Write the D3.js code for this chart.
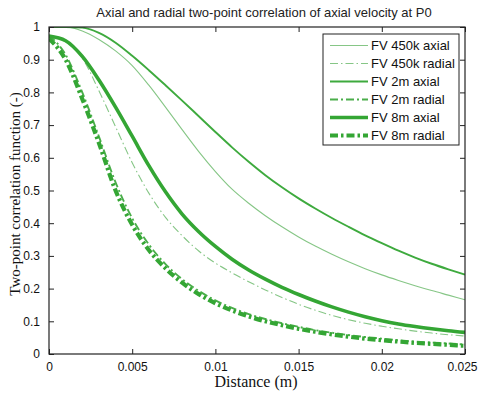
<!DOCTYPE html>
<html>
<head>
<meta charset="utf-8">
<script src="https://cdn.jsdelivr.net/npm/d3@7"></script>
<style>
  html, body { margin: 0; padding: 0; background: #fff; }
  svg { display: block; }
</style>
</head>
<body>
<svg id="chart" width="478" height="393"></svg>
<script>
// Separation distance (m)
const distance = [0, 0.001, 0.002, 0.003, 0.004, 0.005, 0.006, 0.007, 0.008, 0.009,
  0.010, 0.011, 0.012, 0.013, 0.014, 0.015, 0.016, 0.017, 0.018, 0.019,
  0.020, 0.021, 0.022, 0.023, 0.024, 0.025];

// Two-point correlation per mesh and direction
const fv450kAxial = [1.0, 1.0, 0.988, 0.962, 0.927, 0.882, 0.822, 0.755, 0.686, 0.619,
  0.558, 0.504, 0.461, 0.423, 0.389, 0.358, 0.33, 0.305, 0.282, 0.261,
  0.242, 0.225, 0.209, 0.194, 0.18, 0.166];
const fv450kRadial = [0.97, 0.955, 0.905, 0.805, 0.695, 0.585, 0.492, 0.418, 0.362, 0.315,
  0.278, 0.248, 0.221, 0.196, 0.173, 0.152, 0.134, 0.118, 0.105, 0.094,
  0.085, 0.077, 0.07, 0.064, 0.059, 0.055];
const fv2mAxial = [1.0, 1.0, 0.998, 0.982, 0.952, 0.912, 0.868, 0.822, 0.775, 0.727,
  0.679, 0.632, 0.588, 0.547, 0.51, 0.476, 0.445, 0.416, 0.389, 0.363,
  0.339, 0.316, 0.295, 0.276, 0.259, 0.243];
const fv2mRadial = [0.975, 0.915, 0.8, 0.665, 0.525, 0.415, 0.335, 0.275, 0.229, 0.193,
  0.164, 0.141, 0.122, 0.107, 0.094, 0.083, 0.073, 0.065, 0.058, 0.052,
  0.047, 0.042, 0.038, 0.035, 0.032, 0.029];
const fv8mAxial = [0.972, 0.958, 0.91, 0.838, 0.755, 0.666, 0.576, 0.496, 0.428, 0.374,
  0.329, 0.29, 0.257, 0.229, 0.204, 0.182, 0.162, 0.144, 0.128, 0.114,
  0.102, 0.092, 0.084, 0.077, 0.071, 0.066];
const fv8mRadial = [0.965, 0.9, 0.78, 0.645, 0.5, 0.395, 0.318, 0.262, 0.218, 0.183,
  0.155, 0.133, 0.115, 0.1, 0.088, 0.077, 0.068, 0.06, 0.053, 0.047,
  0.042, 0.038, 0.034, 0.031, 0.028, 0.025];

const seriesNames = ["FV 450k axial", "FV 450k radial", "FV 2m axial", "FV 2m radial", "FV 8m axial", "FV 8m radial"];
const seriesValues = [fv450kAxial, fv450kRadial, fv2mAxial, fv2mRadial, fv8mAxial, fv8mRadial];

const xTicks = [0, 0.005, 0.01, 0.015, 0.02, 0.025];
const xTickLabels = ["0", "0.005", "0.01", "0.015", "0.02", "0.025"];
const yTicks = [0, 0.1, 0.2, 0.3, 0.4, 0.5, 0.6, 0.7, 0.8, 0.9, 1];
const yTickLabels = ["0", "0.1", "0.2", "0.3", "0.4", "0.5", "0.6", "0.7", "0.8", "0.9", "1"];

// Line styles for each series
const styles = [
  { color: "#86c686", width: 1.1, dash: null },
  { color: "#86c686", width: 1.1, dash: "8,3,1.5,3" },
  { color: "#3eaa3e", width: 1.9, dash: null },
  { color: "#4aae4a", width: 1.9, dash: "8,3,2,3" },
  { color: "#34a634", width: 3.6, dash: null },
  { color: "#34a634", width: 4.2, dash: "8,3,2.5,3" }
];

const svg = d3.select("#chart");
const plot = { left: 49, right: 465, top: 27, bottom: 354 };

const x = d3.scaleLinear().domain([0, 0.025]).range([plot.left, plot.right]);
const y = d3.scaleLinear().domain([0, 1]).range([plot.bottom, plot.top]);

svg.append("defs").append("clipPath").attr("id", "plot-clip")
  .append("rect")
  .attr("x", plot.left).attr("y", plot.top)
  .attr("width", plot.right - plot.left).attr("height", plot.bottom - plot.top);

// Curves
const line = d3.line()
  .x((d, i) => x(distance[i]))
  .y(d => y(d))
  .curve(d3.curveMonotoneX);

const curves = svg.append("g").attr("clip-path", "url(#plot-clip)");
seriesValues.forEach((vals, k) => {
  const s = styles[k];
  curves.append("path")
    .datum(vals)
    .attr("d", line)
    .attr("fill", "none")
    .attr("stroke", s.color)
    .attr("stroke-width", s.width)
    .attr("stroke-dasharray", s.dash)
    .attr("stroke-linejoin", "round");
});

// Axes with inward ticks on all four sides
const tickFont = "Liberation Sans, Arial, sans-serif";
const serifFont = "Liberation Serif, Times New Roman, serif";
const axisColor = "#222";

const xAxisBottom = d3.axisBottom(x).tickValues(xTicks)
  .tickFormat((d, i) => xTickLabels[i]).tickSizeInner(-5).tickSizeOuter(0).tickPadding(8);
const xAxisTop = d3.axisTop(x).tickValues(xTicks)
  .tickFormat("").tickSizeInner(-5).tickSizeOuter(0);
const yAxisLeft = d3.axisLeft(y).tickValues(yTicks)
  .tickFormat((d, i) => yTickLabels[i]).tickSizeInner(-5).tickSizeOuter(0).tickPadding(9);
const yAxisRight = d3.axisRight(y).tickValues(yTicks)
  .tickFormat("").tickSizeInner(-5).tickSizeOuter(0);

function styleAxis(g) {
  g.select(".domain").remove();
  g.selectAll(".tick line").attr("stroke", axisColor);
  g.selectAll(".tick text").attr("fill", "#111")
    .style("font-family", tickFont).style("font-size", "12px");
}

const gx = svg.append("g").attr("transform", `translate(0,${plot.bottom})`).call(xAxisBottom).call(styleAxis);
// keep the last label inside the window edge
gx.selectAll(".tick text").filter(d => d === 0.025).attr("text-anchor", "end").attr("x", 12);
svg.append("g").attr("transform", `translate(0,${plot.top})`).call(xAxisTop).call(styleAxis);
svg.append("g").attr("transform", `translate(${plot.left},0)`).call(yAxisLeft).call(styleAxis);
svg.append("g").attr("transform", `translate(${plot.right},0)`).call(yAxisRight).call(styleAxis);

svg.append("rect")
  .attr("x", plot.left).attr("y", plot.top)
  .attr("width", plot.right - plot.left).attr("height", plot.bottom - plot.top)
  .attr("fill", "none").attr("stroke", axisColor).attr("stroke-width", 1.2);

// Title and axis labels
svg.append("text")
  .attr("x", 264).attr("y", 17)
  .attr("text-anchor", "middle")
  .style("font-family", tickFont).style("font-size", "13px").attr("fill", "#222")
  .text("Axial and radial two-point correlation of axial velocity at P0");

svg.append("text")
  .attr("x", 256).attr("y", 387)
  .attr("text-anchor", "middle")
  .style("font-family", serifFont).style("font-size", "16px").attr("fill", "#111")
  .text("Distance (m)");

svg.append("text")
  .attr("transform", "translate(20,194) rotate(-90)")
  .attr("text-anchor", "middle")
  .style("font-family", serifFont).style("font-size", "15px").attr("fill", "#111")
  .text("Two-point correlation function (-)");

// Legend
const legend = svg.append("g");
legend.append("rect")
  .attr("x", 323).attr("y", 34).attr("width", 136).attr("height", 111)
  .attr("fill", "#fff").attr("stroke", axisColor).attr("stroke-width", 1);

seriesNames.forEach((name, k) => {
  const s = styles[k];
  const ry = 45.5 + k * 18;
  legend.append("line")
    .attr("x1", 330).attr("x2", 368).attr("y1", ry).attr("y2", ry)
    .attr("stroke", s.color).attr("stroke-width", s.width)
    .attr("stroke-dasharray", s.dash);
  legend.append("text")
    .attr("x", 371).attr("y", ry + 4.5)
    .style("font-family", tickFont).style("font-size", "13px").attr("fill", "#111")
    .text(name);
});
</script>
</body>
</html>
